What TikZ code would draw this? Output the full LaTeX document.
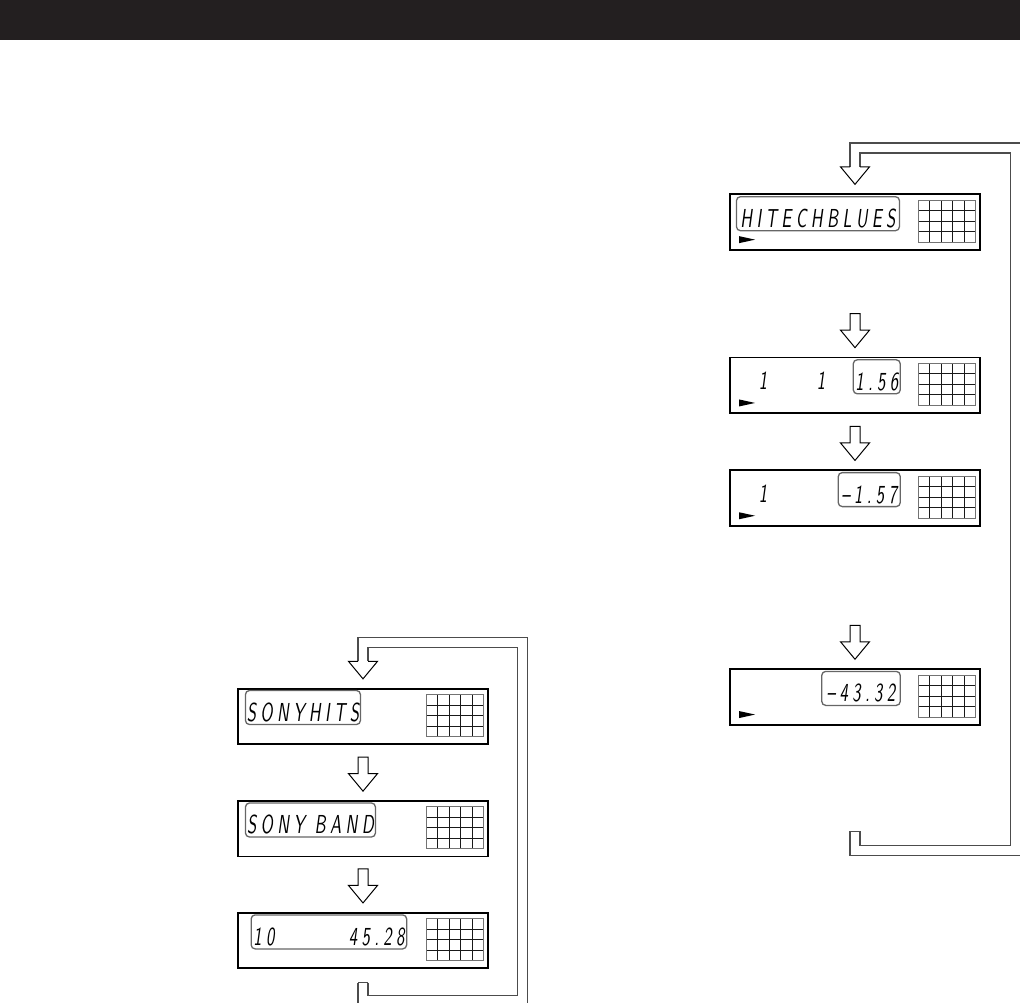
\documentclass[tikz,border=0pt]{standalone}
\usepackage{fontspec}
\usepackage{tikz}
\usetikzlibrary{positioning, calc}

\newfontfamily\lcdface{lmsans10-oblique.otf}[FakeStretch=0.64, LetterSpace=17]
\definecolor{barblack}{RGB}{35,31,32}

\begin{document}
\begin{tikzpicture}[x=1pt, y=-1pt,
		panel/.style={rectangle, draw, line width=1.8pt, minimum width=250pt, minimum height=55.5pt, inner sep=0pt},
		lcd/.style={font={\fontsize{26pt}{26pt}\lcdface}, inner sep=0pt, minimum height=34pt, text height=27pt, text depth=0pt},
		segbox/.style={lcd, draw=black!60, line width=1.3pt, rounded corners=4pt},
		pipe/.style={draw=black!70, double=white, double distance=8.9pt, line width=1.1pt},
		pipeedge/.style={draw=black!70, line width=1.1pt, line cap=square},
		headline/.style={draw, line width=1pt, line join=miter},
		hollowdown/.pic={
			\draw[headline] (-5,-34) -- (-5,-17.5) -- (-14.5,-17.5) -- (0,0) -- (14.5,-17.5) -- (5,-17.5) -- (5,-34) -- cycle;
		},
		playmark/.pic={
			\fill (0,0) -- (0,-7) -- (16,-3.5) -- cycle;
		},
		lcdgrid/.pic={
			\foreach \gx in {11.4,22.8,34.2,45.6} \draw[black!90, line width=1pt] (\gx,0) -- (\gx,42);
			\foreach \gy in {10.5,21,31.5} \draw[black!90, line width=1pt] (0,\gy) -- (57,\gy);
			\draw[black!55, line width=1pt] (0,0) rectangle (57,42);
		}]
	\useasboundingbox (0,0) rectangle (1020,1003);
	\fill[barblack] (0,0) rectangle (1020,40);

	% right column
	\node[panel] (R1) at (855,222) {};
	\node[panel, below=106pt of R1] (R2) {};
	\node[panel, below=55.5pt of R2] (R3) {};
	\node[panel, below=141.5pt of R3] (R4) {};
	\node[segbox, minimum width=163pt, below right=2.7pt and 6.7pt of R1.north west] (R1txt) {HITECHBLUES};
	\node[segbox, minimum width=47pt, below left=2.5pt and 80pt of R2.north east] (R2txt) {1.56};
	\node[segbox, minimum width=62pt, below left=2.5pt and 80pt of R3.north east] (R3txt) {–\,1.57};
	\node[segbox, minimum width=78.5pt, below left=2.5pt and 80pt of R4.north east] (R4txt) {–43.32};
	\node[lcd, anchor=north] (R2a) at ($(R2.north west)+(34,2.5)$) {1};
	\node[lcd, anchor=north] (R2b) at ($(R2.north west)+(92,2.5)$) {1};
	\node[lcd, anchor=north] (R3a) at ($(R3.north west)+(34,2.5)$) {1};

	% left column
	\node[panel] (L1) at (363,716.5) {};
	\node[panel, below=55pt of L1] (L2) {};
	\node[panel, below=54.5pt of L2] (L3) {};
	\node[segbox, minimum width=115pt, below right=2pt and 7.7pt of L1.north west] (L1txt) {SONYHITS};
	\node[segbox, minimum width=130pt, below right=2.2pt and 7.7pt of L2.north west] (L2txt) {SONY\hspace{10pt}BAND};
	\node[segbox, minimum width=155.5pt, below right=2.3pt and 13.4pt of L3.north west] (L3txt) {\makebox[151pt]{10\hfill 45.28}};

	\foreach \b in {R1,R2,R3,R4,L1,L2,L3} \pic at ($(\b.north east)+(-62.5,6.8)$) {lcdgrid};
	\foreach \b in {R1,R2,R3,R4} \pic at ($(\b.south west)+(10,-7.5)$) {playmark};
	\foreach \b in {R2,R3,R4,L2,L3} \pic at ($(\b.north)+(0,-9)$) {hollowdown};

	% return loops
	\coordinate (Rend) at ($(R4.south)+(0,105.5)$);
	\coordinate (Rtip) at ($(R1.north)+(0,-9)$);
	\draw[pipe] (Rend) -- ++(0,19) -| ($(R1.north east)+(34.3,-45.3)$) -| ($(Rtip)+(0,-17.5)$);
	\draw[pipeedge] ($(Rend)+(-5,0)$) -- ++(10,0);
	\draw[headline] ($(Rtip)+(-5,-17.5)$) -- ++(-9.5,0) -- (Rtip) -- ++(14.5,-17.5) -- ++(-9.5,0);

	\coordinate (Lend) at ($(L3.south)+(0,13.3)$);
	\coordinate (Ltip) at ($(L1.north)+(0,-9)$);
	\draw[pipe] (Lend) -- ++(0,18.2) -| ($(L1.north east)+(33.6,-45.3)$) -| ($(Ltip)+(0,-17.5)$);
	\draw[pipeedge] ($(Lend)+(-5,0)$) -- ++(10,0);
	\draw[headline] ($(Ltip)+(-5,-17.5)$) -- ++(-9.5,0) -- (Ltip) -- ++(14.5,-17.5) -- ++(-9.5,0);
\end{tikzpicture}
\end{document}
